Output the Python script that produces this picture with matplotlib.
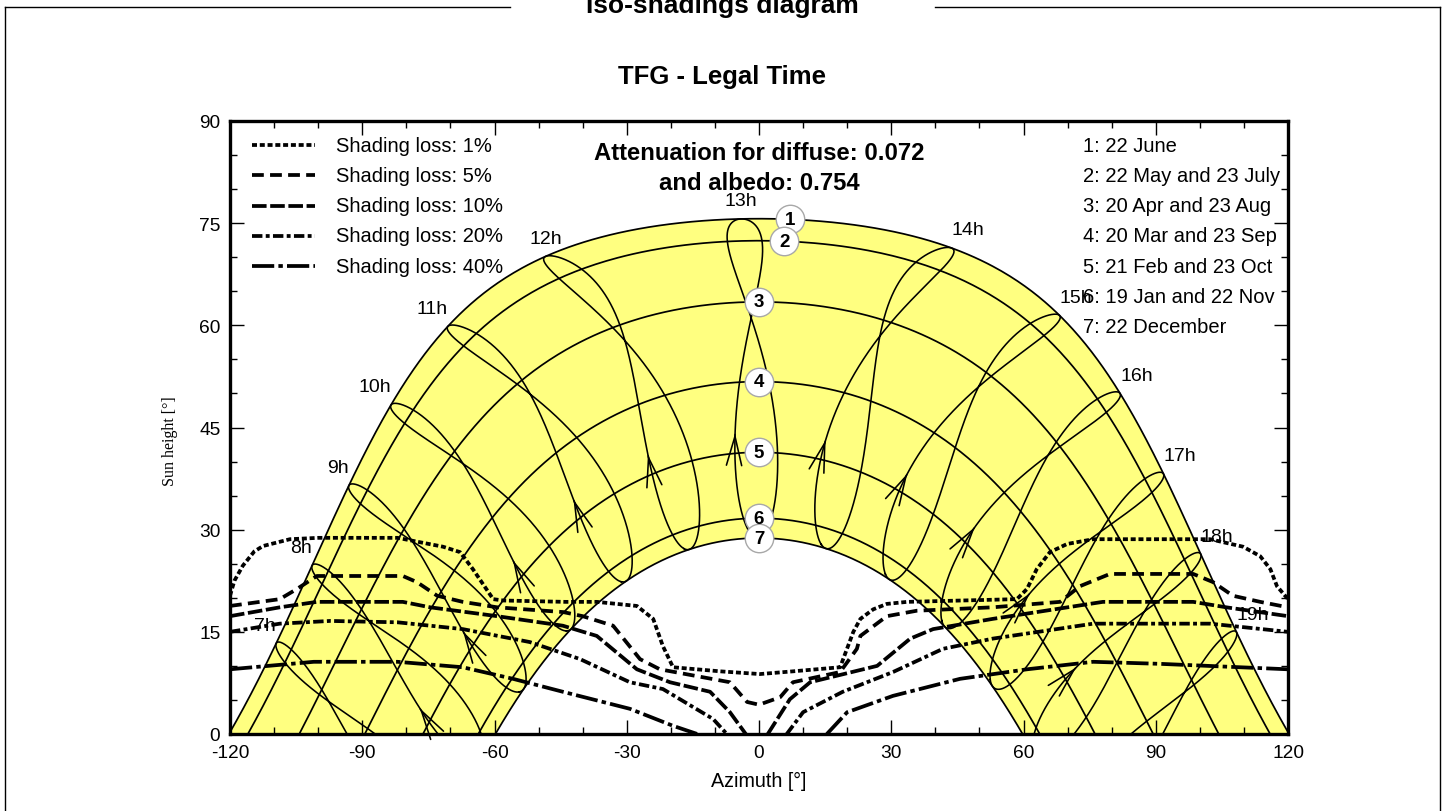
import numpy as np
import matplotlib
matplotlib.use('Agg')
import matplotlib.pyplot as plt
from matplotlib.lines import Line2D
from matplotlib.ticker import MultipleLocator

plt.rcParams['font.family'] = ['Liberation Sans', 'DejaVu Sans']
plt.rcParams['lines.scale_dashes'] = False
plt.rcParams['axes.unicode_minus'] = False

# ---------------- data ----------------
LATITUDE = 37.8      # deg N
LONGITUDE = -0.7     # deg E
TIMEZONE = 1.0       # legal time offset (h)

date_numbers = ['1', '2', '3', '4', '5', '6', '7']
date_doy = [173, 142, 110, 79, 52, 19, 356]
date_legend = ['1: 22 June', '2: 22 May and 23 July', '3: 20 Apr and 23 Aug',
               '4: 20 Mar and 23 Sep', '5: 21 Feb and 23 Oct',
               '6: 19 Jan and 22 Nov', '7: 22 December']
date_label_az = [7.0, 5.7, 0.0, 0.0, 0.0, 0.0, 0.0]

hours = list(range(7, 20))
hour_labels = list(range(7, 20))
arrow_doy = 60

loss_names = ['Shading loss: 1%', 'Shading loss: 5%', 'Shading loss: 10%',
              'Shading loss: 20%', 'Shading loss: 40%']

loss1_az = [-120, -119, -117.1, -114.5, -112.5, -106.4, -100, -82, -71.7, -67.8, -64.9, -60.3,
            -58, -44, -36.8, -27.7, -24, -21.8, -19.5, -8.8, 0.2, 7.7, 18.4, 21.4, 23, 25.9,
            29, 33.6, 58.5, 60.8, 63, 66, 69.9, 75.8, 102.3, 109.8, 113.7, 116, 117.5, 120]
loss1_h = [20.3, 22.5, 24.7, 26.8, 27.6, 28.6, 28.8, 28.8, 27.5, 26.7, 24.2, 19.8,
           19.6, 19.4, 19.4, 18.8, 16.9, 12.9, 9.8, 9.2, 8.8, 9.2, 9.8, 15.0, 16.9, 18.3,
           19.1, 19.4, 19.8, 21.3, 24.2, 26.7, 27.9, 28.6, 28.6, 27.5, 26.1, 24.2, 21.7, 19.8]

loss5_az = [-120, -108.7, -104.8, -100.3, -80.8, -77.6, -73, -67.2, -59.4, -44.4, -40, -33.1,
            -27, -22.5, -6.6, -2.7, 0, 4.8, 7.7, 18.4, 22.2, 23, 29, 35.8, 53, 68.3, 72.8,
            79.6, 98.5, 103, 107.5, 113.7, 120]
loss5_h = [18.8, 19.8, 21.3, 23.2, 23.2, 22.3, 20.3, 19.4, 18.6, 17.9, 17.3, 15.9,
           11.0, 9.5, 7.6, 4.7, 4.3, 5.4, 7.6, 9.1, 12.5, 14.4, 17.3, 18.1, 18.6, 19.4, 21.7,
           23.5, 23.5, 22.3, 20.3, 19.4, 18.6]

loss10_az = [-120, -108.7, -100.3, -80.8, -74.6, -59.4, -44.5, -36.8, -27.7, -20.2, -11.1,
             -6.6, -3.0, np.nan, 2.0, 7.0, 11.6, 26.8, 34.3, 39.5, 53, 78, 98.5, 106, 120]
loss10_h = [17.3, 18.6, 19.4, 19.4, 18.6, 17.3, 15.9, 14.4, 9.5, 7.6, 6.2,
            3.2, 0.0, np.nan, 0.0, 5.1, 7.6, 10.0, 14.0, 15.4, 16.9, 19.4, 19.4, 18.6, 17.3]

loss20_az = [-120, -108.7, -97.3, -82, -67.2, -52, -40.6, -29.3, -21.8, -10.4, -7.3, np.nan,
             6.3, 10, 19, 30.4, 41.7, 53, 75.8, 102.3, 120]
loss20_h = [15.0, 16.2, 16.6, 16.4, 15.4, 13.5, 11.0, 7.6, 6.6, 2.2, 0.0, np.nan,
            0.0, 3.2, 6.2, 9.1, 12.5, 14.0, 16.2, 16.2, 15.0]

loss40_az = [-120, -101, -82, -67.2, -55.8, -44.5, -29.3, -19.5, -14, np.nan,
             15.4, 20, 30.4, 45.6, 60.8, 75.8, 91, 120]
loss40_h = [9.5, 10.6, 10.6, 9.8, 8.1, 6.2, 3.7, 1.2, 0.0, np.nan,
            0.0, 3.2, 5.6, 8.1, 9.5, 10.6, 10.3, 9.5]

attenuation_lines = ['Attenuation for diffuse: 0.072', 'and albedo: 0.754']

# ---------------- solar geometry ----------------
phi = np.radians(LATITUDE)


def declination(doy):
    B = 2 * np.pi * (np.asarray(doy, float) - 1) / 365.0
    d = (0.006918 - 0.399912 * np.cos(B) + 0.070257 * np.sin(B)
         - 0.006758 * np.cos(2 * B) + 0.000907 * np.sin(2 * B)
         - 0.002697 * np.cos(3 * B) + 0.00148 * np.sin(3 * B))
    return d


def eot(doy):
    B = 2 * np.pi * (np.asarray(doy, float) - 1) / 365.0
    return 229.18 * (0.000075 + 0.001868 * np.cos(B) - 0.032077 * np.sin(B)
                     - 0.014615 * np.cos(2 * B) - 0.040849 * np.sin(2 * B))


def pos_from_ha(dec, ha):
    sh = np.sin(phi) * np.sin(dec) + np.cos(phi) * np.cos(dec) * np.cos(ha)
    h = np.degrees(np.arcsin(sh))
    az = np.degrees(np.arctan2(np.sin(ha), np.cos(ha) * np.sin(phi) - np.tan(dec) * np.cos(phi)))
    return az, h


def sun_pos(doy, legal_hour):
    solar = legal_hour + (4 * (LONGITUDE - 15 * TIMEZONE) + eot(doy)) / 60.0
    ha = np.radians(15 * (solar - 12))
    return pos_from_ha(declination(doy), ha)


def day_path(doy):
    dec = declination(doy)
    h0 = np.arccos(-np.tan(phi) * np.tan(dec))
    ha = np.linspace(-h0, h0, 600)
    return pos_from_ha(dec, ha)


# ---------------- figure ----------------
W, H = 1448, 812
fig = plt.figure(figsize=(W / 100, H / 100), dpi=100)
ax = fig.add_axes([230 / W, 1 - 735 / H, 1058 / W, 613 / H])
ax.set_xlim(-120, 120)
ax.set_ylim(0, 90)

# yellow band
az_s, h_s = day_path(date_doy[0])
az_w, h_w = day_path(date_doy[-1])
ax.fill(np.concatenate([az_s, az_w[::-1]]), np.concatenate([h_s, h_w[::-1]]),
        color='#ffff80', lw=0, zorder=1)

# date paths
for i, d in enumerate(date_doy):
    a, h = day_path(d)
    ax.plot(a, h, color='black', lw=1.25, zorder=3)

# hour lines (analemmas)
days = np.arange(1, 366.01, 0.25)
for hr in hours:
    a, h = sun_pos(days, hr)
    ax.plot(a, h, color='black', lw=1.15, zorder=3)
    a0, h0 = sun_pos(arrow_doy - 0.5, hr)
    a1, h1 = sun_pos(arrow_doy, hr)
    if h1 > 0:
        ax.annotate('', xy=(a1, h1), xytext=(a0, h0),
                    arrowprops=dict(arrowstyle='->,head_length=2.1,head_width=0.55',
                                    mutation_scale=10, lw=1.15, color='black',
                                    shrinkA=0, shrinkB=0), zorder=4)
    if hr in hour_labels:
        aj, hj = sun_pos(173, hr)
        ha_ = 'right' if aj < -55 else ('left' if aj > 10 else 'center')
        ax.annotate(f'{hr}h', xy=(aj, hj), xytext=(0, 13), textcoords='offset points',
                    ha=ha_, va='center', fontsize=14, zorder=6)

# shading loss curves
loss_az = [loss1_az, loss5_az, loss10_az, loss20_az, loss40_az]
loss_h = [loss1_h, loss5_h, loss10_h, loss20_h, loss40_h]
loss_dashes = [(3.6, 2.0), (8.5, 4.5), (10.5, 2.6), (7.5, 2.4, 2.8, 2.4), (16, 3, 3.2, 3)]
for az_, h_, ds in zip(loss_az, loss_h, loss_dashes):
    ax.plot(az_, h_, color='black', lw=2.7, dashes=ds, zorder=5, solid_capstyle='butt',
            dash_capstyle='butt')

# date number markers
for i, d in enumerate(date_doy):
    a, h = day_path(d)
    half = a >= 0
    hl = np.interp(date_label_az[i], a[half], h[half])
    ax.scatter([date_label_az[i]], [hl], s=420, facecolor='white', edgecolor='#a8a8a8',
               lw=1.0, zorder=7)
    ax.text(date_label_az[i], hl, date_numbers[i], ha='center', va='center',
            fontsize=13.5, fontweight='bold', zorder=8)

# legends (manual)
for i, (name, ds) in enumerate(zip(loss_names, loss_dashes)):
    y = 1 - (146 + 30.3 * i - 122) / 613
    ax.add_line(Line2D([22 / 1058, 85 / 1058], [y, y], transform=ax.transAxes, color='black',
                       lw=2.7, dashes=ds, zorder=9))
    ax.text(106 / 1058, y, name, transform=ax.transAxes, ha='left', va='center',
            fontsize=14.5, zorder=9)
for i, name in enumerate(date_legend):
    y = 1 - (146 + 30.3 * i - 122) / 613
    ax.text((1083 - 230) / 1058, y, name, transform=ax.transAxes, ha='left', va='center',
            fontsize=14.5, zorder=9)
for i, t in enumerate(attenuation_lines):
    y = 1 - (154 + 30 * i - 122) / 613
    ax.text(0, y, t, transform=ax.get_xaxis_transform(), ha='center', va='center',
            fontsize=17.2, fontweight='bold', zorder=9)

# axes styling
ax.xaxis.set_major_locator(MultipleLocator(30))
ax.xaxis.set_minor_locator(MultipleLocator(10))
ax.yaxis.set_major_locator(MultipleLocator(15))
ax.yaxis.set_minor_locator(MultipleLocator(5))
ax.tick_params(which='both', direction='in', top=True, right=True, labelsize=13.8, width=1.0)
ax.tick_params(which='major', length=10, pad=7)
ax.tick_params(which='minor', length=5)
for sp in ax.spines.values():
    sp.set_linewidth(2.4)
    sp.set_zorder(10)

# figure texts
fig.text(759 / W, 1 - 781 / H, 'Azimuth [°]', ha='center', va='center', fontsize=14.2)
fig.text(170 / W, 1 - 441 / H, 'Sun height [°]', ha='center', va='center', rotation=90,
         fontsize=11.5, family=['Liberation Serif', 'DejaVu Serif'])
fig.text(722 / W, 1 - 77 / H, 'TFG - Legal Time', ha='center', va='center', fontsize=18.5,
         fontweight='bold')
fig.text(722 / W, 1 - 6 / H, 'Iso-shadings diagram', ha='center', va='center', fontsize=19,
         fontweight='bold')

# outer frame
for xs, ys in [([5, 5], [8, 812]), ([5, 510], [8, 8]), ([935, 1440], [8, 8]),
               ([1440, 1440], [8, 812])]:
    fig.add_artist(Line2D([x / W for x in xs], [1 - y / H for y in ys], color='black', lw=1.0))

fig.savefig('out.png', dpi=100)
